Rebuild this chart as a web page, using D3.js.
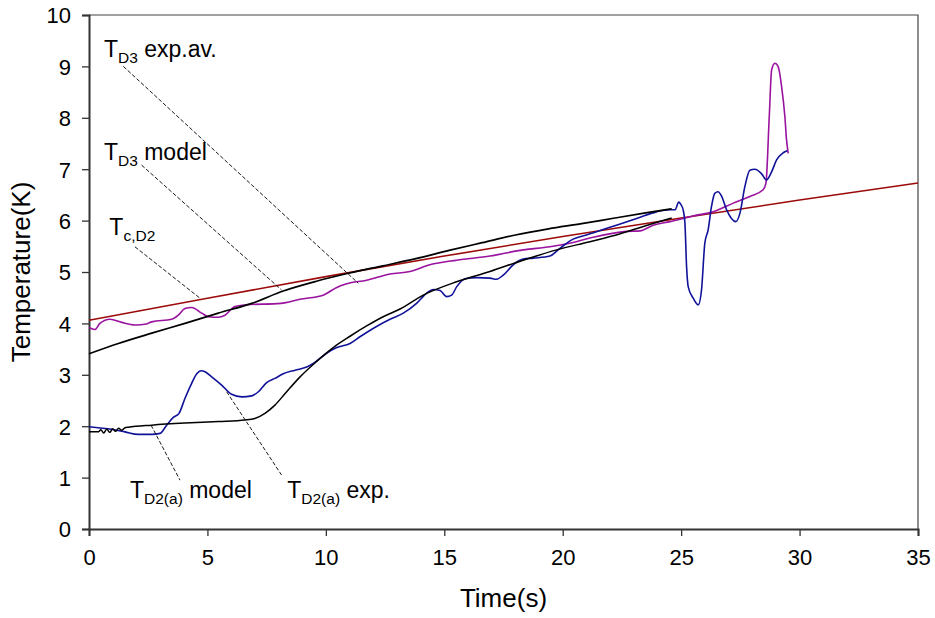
<!DOCTYPE html>
<html>
<head>
<meta charset="utf-8">
<script src="https://cdn.jsdelivr.net/npm/d3@7"></script>
<style>
  body { margin: 0; background: #fff; }
  svg { display: block; font-family: Arial, "Liberation Sans", sans-serif; }
  .tick text { font-size: 22px; fill: #000; }
  .lbl { font-size: 23px; fill: #000; }
  .sub { font-size: 15.5px; }
  .axis-title { font-size: 26px; fill: #000; }
</style>
</head>
<body>
<svg id="chart" width="935" height="618"></svg>
<script>
// axis ticks
const xTicks = [0, 5, 10, 15, 20, 25, 30, 35];
const yTicks = [0, 1, 2, 3, 4, 5, 6, 7, 8, 9, 10];

// T_c,D2 (computed line)
const tcTime = [0, 5, 10, 15, 20, 25, 30, 35];
const tcTemp = [4.06, 4.49, 4.91, 5.31, 5.69, 6.05, 6.40, 6.73];

// T_D3 model
const d3mTime = [0, 1.24, 2.65, 4.05, 5.46, 6.87, 8.2, 9.6, 11.0, 12.4, 13.8, 15.2, 16.6, 18.0, 19.4, 20.8, 22.2, 23.5, 24.6];
const d3mTemp = [3.41, 3.61, 3.81, 4.0, 4.2, 4.39, 4.63, 4.82, 4.98, 5.12, 5.26, 5.42, 5.57, 5.72, 5.84, 5.94, 6.05, 6.15, 6.23];

// T_D2(a) model
const d2mTime = [0, 0.4, 0.5, 0.62, 0.75, 0.88, 1.0, 1.12, 1.25, 1.38, 1.52, 1.66, 2.65, 4.05, 5.46, 6.59, 7.0, 7.43, 7.85, 8.27, 8.91, 9.61, 10.31, 11.02, 11.72, 12.42, 13.13, 14.11, 15.52, 16.93, 18.33, 19.74, 21.15, 22.4, 23.5, 24.6];
const d2mTemp = [1.89, 1.89, 1.93, 1.87, 1.94, 1.88, 1.95, 1.9, 1.96, 1.92, 1.97, 1.98, 2.02, 2.06, 2.09, 2.12, 2.15, 2.25, 2.41, 2.63, 2.96, 3.26, 3.53, 3.75, 3.95, 4.13, 4.28, 4.55, 4.81, 5.01, 5.23, 5.43, 5.59, 5.74, 5.9, 6.05];

// T_D2(a) exp.
const d2eTime = [0, 0.39, 0.96, 1.52, 2.08, 2.65, 3.0, 3.28, 3.56, 3.8, 4.05, 4.33, 4.55, 4.73, 4.9, 5.18, 5.6, 6.02, 6.45, 6.87, 7.15, 7.5, 7.85, 8.2, 8.7, 9.19, 9.47, 10.03, 10.46, 11.02, 11.44, 12.14, 12.71, 13.27, 13.83, 14.26, 14.53, 14.82, 15.1, 15.31, 15.52, 15.87, 16.37, 16.93, 17.21, 17.49, 17.91, 18.33, 18.76, 19.46, 19.88, 20.44, 21.0, 22.13, 23.12, 23.96, 24.53, 24.74, 24.9, 24.98, 25.09, 25.16, 25.23, 25.3, 25.51, 25.72, 25.86, 26.0, 26.14, 26.28, 26.42, 26.56, 26.71, 26.92, 27.31, 27.48, 27.69, 27.9, 28.11, 28.4, 28.6, 28.82, 29.03, 29.31, 29.48];
const d2eTemp = [1.99, 1.97, 1.94, 1.89, 1.84, 1.84, 1.86, 2.02, 2.17, 2.25, 2.54, 2.83, 3.02, 3.08, 3.06, 2.96, 2.8, 2.62, 2.57, 2.59, 2.67, 2.85, 2.93, 3.02, 3.09, 3.15, 3.22, 3.42, 3.53, 3.61, 3.74, 3.94, 4.08, 4.2, 4.39, 4.59, 4.66, 4.64, 4.52, 4.55, 4.71, 4.87, 4.89, 4.88, 4.86, 4.94, 5.14, 5.25, 5.27, 5.31, 5.46, 5.64, 5.72, 5.89, 6.04, 6.17, 6.21, 6.21, 6.36, 6.32, 6.2, 5.95, 5.1, 4.71, 4.49, 4.36, 4.65, 5.56, 5.82, 6.27, 6.53, 6.56, 6.47, 6.21, 5.98, 6.14, 6.66, 6.98, 7.0, 6.91, 6.79, 6.95, 7.18, 7.32, 7.36];

// T_D3 exp.av.
const d3eTime = [0, 0.25, 0.46, 0.89, 1.38, 1.94, 2.43, 2.65, 3.49, 3.77, 4.05, 4.33, 4.76, 5.04, 5.46, 5.74, 6.16, 6.59, 8.1, 8.9, 9.89, 10.46, 10.88, 11.72, 12.71, 13.55, 14.39, 15.52, 16.93, 18.33, 19.46, 20.3, 21.15, 22.7, 23.26, 23.82, 24.53, 25.09, 25.5, 26.35, 27.2, 27.9, 28.46, 28.58, 28.72, 28.82, 28.96, 29.1, 29.24, 29.38, 29.45, 29.52];
const d3eTemp = [3.92, 3.88, 4.0, 4.08, 4.02, 3.97, 3.99, 4.03, 4.08, 4.16, 4.29, 4.31, 4.2, 4.13, 4.12, 4.16, 4.33, 4.36, 4.39, 4.47, 4.55, 4.7, 4.77, 4.84, 4.96, 5.01, 5.14, 5.23, 5.31, 5.43, 5.49, 5.56, 5.66, 5.79, 5.8, 5.91, 5.98, 6.04, 6.09, 6.17, 6.34, 6.47, 6.6, 6.73, 8.02, 8.93, 9.06, 8.99, 8.61, 8.02, 7.57, 7.31];

// annotation labels and their dashed leaders (data units)
const labelMain = ["T", "T", "T", "T", "T"];
const labelSub = ["D3", "D3", "c,D2", "D2(a)", "D2(a)"];
const labelRest = [" exp.av.", " model", "", " model", " exp."];
const labelAt = [[0.63, 9.18], [0.63, 7.18], [0.86, 5.72], [1.73, 0.6], [8.37, 0.6]];
const leaderFrom = [[1.45, 9.0], [2.22, 7.08], [1.94, 5.49], [2.62, 2.02], [5.81, 2.67]];
const leaderTo = [[11.37, 4.78], [8.13, 4.65], [4.66, 4.5], [3.84, 0.95], [8.13, 1.05]];

const series = [
  { t: tcTime, v: tcTemp, color: "#9c0a0a", w: 1.6 },
  { t: d3eTime, v: d3eTemp, color: "#9a139f", w: 1.6 },
  { t: d2eTime, v: d2eTemp, color: "#10129a", w: 1.6 },
  { t: d3mTime, v: d3mTemp, color: "#000", w: 1.7 },
  { t: d2mTime, v: d2mTemp, color: "#000", w: 1.5 },
];

const svg = d3.select("#chart");
const m = { left: 89, top: 15, right: 918, bottom: 529 };

const x = d3.scaleLinear().domain([0, 35]).range([m.left, m.right]);
const y = d3.scaleLinear().domain([0, 10]).range([m.bottom, m.top]);

// frame: top and right borders
svg.append("path")
  .attr("d", `M${m.left},${m.top}H${m.right}V${m.bottom}`)
  .attr("fill", "none")
  .attr("stroke", "#444")
  .attr("stroke-width", 1.2);

// axes
const xAx = svg.append("g")
  .attr("transform", `translate(0,${m.bottom})`)
  .call(d3.axisBottom(x).tickValues(xTicks).tickSize(7).tickPadding(13).tickFormat(d3.format("d")));
const yAx = svg.append("g")
  .attr("transform", `translate(${m.left},0)`)
  .call(d3.axisLeft(y).tickValues(yTicks).tickSize(7).tickPadding(11).tickFormat(d3.format("d")));
[xAx, yAx].forEach((g) => {
  g.select(".domain").attr("stroke", "#333").attr("stroke-width", 2);
  g.selectAll(".tick line").attr("stroke", "#333").attr("stroke-width", 1.3);
  g.selectAll(".tick text").attr("font-family", "Arial, 'Liberation Sans', sans-serif");
});
xAx.selectAll(".tick text").attr("dy", "0.72em");
yAx.selectAll(".tick text").attr("dy", "0.36em");

// data lines
const line = d3.line()
  .x((d) => x(d[0]))
  .y((d) => y(d[1]))
  .curve(d3.curveMonotoneX);

svg.append("g")
  .selectAll("path")
  .data(series)
  .join("path")
  .attr("fill", "none")
  .attr("stroke", (d) => d.color)
  .attr("stroke-width", (d) => d.w)
  .attr("stroke-linejoin", "round")
  .attr("d", (d) => line(d.t.map((t, i) => [t, d.v[i]])));

// dashed leaders
svg.append("g")
  .selectAll("line")
  .data(leaderFrom)
  .join("line")
  .attr("x1", (d) => x(d[0]))
  .attr("y1", (d) => y(d[1]))
  .attr("x2", (d, i) => x(leaderTo[i][0]))
  .attr("y2", (d, i) => y(leaderTo[i][1]))
  .attr("stroke", "#000")
  .attr("stroke-width", 0.9)
  .attr("stroke-dasharray", "4,2");

// labels with subscripts
const lbls = svg.append("g")
  .selectAll("text")
  .data(labelAt)
  .join("text")
  .attr("class", "lbl")
  .attr("x", (d) => x(d[0]))
  .attr("y", (d) => y(d[1]));
lbls.append("tspan").text((d, i) => labelMain[i]);
lbls.append("tspan").attr("class", "sub").attr("dy", 6).text((d, i) => labelSub[i]);
lbls.append("tspan").attr("dy", -6).text((d, i) => labelRest[i]);

// axis titles
svg.append("text")
  .attr("class", "axis-title")
  .attr("x", (m.left + m.right) / 2)
  .attr("y", 607)
  .attr("text-anchor", "middle")
  .text("Time(s)");
svg.append("text")
  .attr("class", "axis-title")
  .attr("transform", `translate(30,${(m.top + m.bottom) / 2}) rotate(-90)`)
  .attr("text-anchor", "middle")
  .text("Temperature(K)");
</script>
</body>
</html>
